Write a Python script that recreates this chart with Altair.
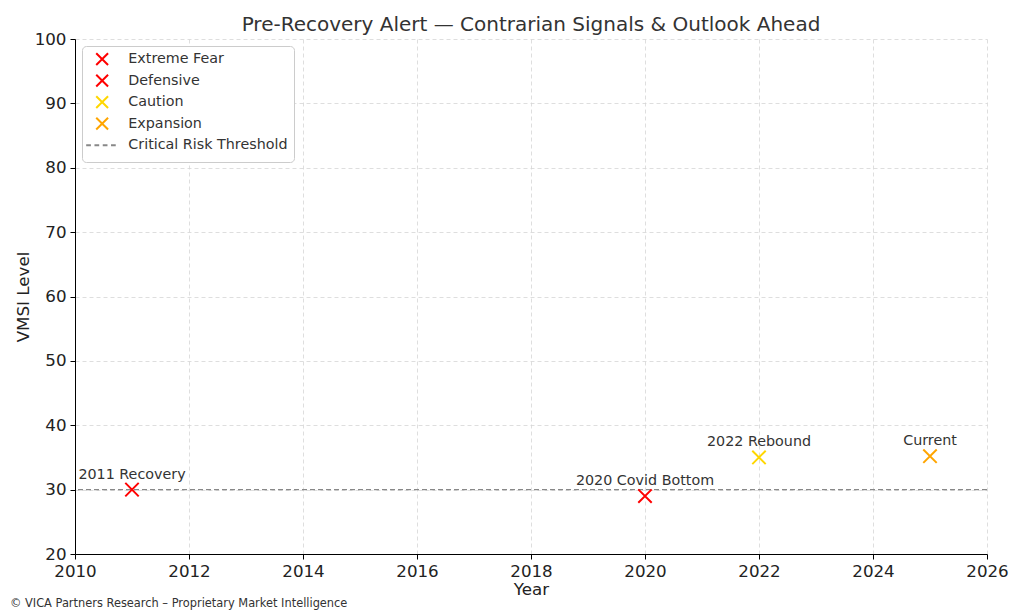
import altair as alt
import pandas as pd

years = [2011, 2020, 2022, 2025]
vmsi = [30, 29, 35, 35.2]
phases = ["Extreme Fear", "Defensive", "Caution", "Expansion"]
labels = ["2011 Recovery", "2020 Covid Bottom", "2022 Rebound", "Current"]
threshold = 30
threshold_name = "Critical Risk Threshold"
footer = "© VICA Partners Research – Proprietary Market Intelligence"

domain = phases + [threshold_name]
colors = ["#FF0000", "#FF0000", "#FFD700", "#FFA500", "#888888"]
xpath = "M-1,-1L1,1M-1,1L1,-1"
dashpath = "M-2.7,0H-1.9M-1.3,0H-0.5M0.1,0H0.9M1.5,0H2.3M0,-1L0,-1M0,1L0,1"
shapes = [xpath, xpath, xpath, xpath, dashpath]

pts = pd.DataFrame({"Year": years, "VMSI": vmsi, "Phase": phases, "Label": labels})
thr = pd.DataFrame({"VMSI": [threshold], "Phase": [threshold_name]})
foot = pd.DataFrame({"t": [footer]})

FONT = "DejaVu Sans"

color = alt.Color("Phase:N", scale=alt.Scale(domain=domain, range=colors),
                  legend=alt.Legend(title=None, orient="top-left", offset=7,
                                    padding=6, rowPadding=0.5, labelFontSize=14.3,
                                    labelColor="#333", labelFont=FONT,
                                    symbolSize=140, symbolStrokeWidth=2,
                                    labelOffset=19, strokeColor="#cccccc",
                                    fillColor="white", cornerRadius=4,
                                    symbolOffset=7))
shape = alt.Shape("Phase:N", scale=alt.Scale(domain=domain, range=shapes))

x = alt.X("Year:Q", scale=alt.Scale(domain=[2010, 2026], nice=False),
          axis=alt.Axis(values=list(range(2010, 2027, 2)), format="d", title="Year",
                        labelFlush=False))
y = alt.Y("VMSI:Q", scale=alt.Scale(domain=[20, 100], nice=False),
          axis=alt.Axis(values=list(range(20, 101, 10)), title="VMSI Level",
                        labelFlush=False))

rule = alt.Chart(thr).mark_rule(strokeDash=[5, 3], strokeWidth=1.3).encode(
    y=y, color=color)

points = alt.Chart(pts).mark_point(filled=False, size=180, strokeWidth=2, opacity=1).encode(
    x=x, y=y, color=color, shape=shape)

text = alt.Chart(pts).mark_text(dy=-15, fontSize=14.3, color="#333", font=FONT).encode(
    x=x, y=y, text="Label:N")

ftext = alt.Chart(foot).mark_text(align="left", baseline="middle", fontSize=11.4,
                                   color="#333", font=FONT).encode(
    x=alt.value(-65), y=alt.value(565), text="t:N")

chart = alt.layer(rule, points, text, ftext).properties(
    width=912, height=515,
    title=alt.TitleParams("Pre-Recovery Alert — Contrarian Signals & Outlook Ahead",
                          fontSize=20, font=FONT, color="#333", fontWeight="normal",
                          offset=-4),
    autosize=alt.AutoSizeParams(type="none"),
    padding={"left": 67, "top": 31, "right": 29, "bottom": 60},
).configure_view(stroke=None).configure_axis(
    grid=True, gridDash=[4, 3], gridColor="#d5d5d5", gridWidth=0.8,
    domainColor="#000", domainWidth=1, tickColor="#000", tickSize=5,
    labelFontSize=16.7, titleFontSize=16.7, labelColor="#222", titleColor="#222",
    labelFont=FONT, titleFont=FONT, titleFontWeight="normal", labelPadding=4,
).configure_axisX(titlePadding=2).configure_axisY(titlePadding=2)

chart.save("out.html", embed_options={"renderer": "svg", "actions": False})
